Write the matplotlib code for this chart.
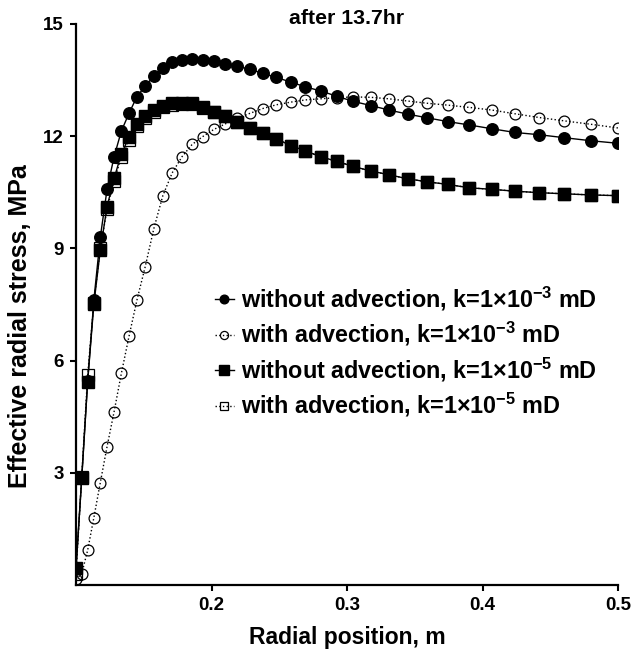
import matplotlib
matplotlib.use("Agg")
import matplotlib.pyplot as plt

plt.rcParams['font.family'] = ['Liberation Sans', 'DejaVu Sans']
plt.rcParams['font.weight'] = 'bold'
plt.rcParams['mathtext.fontset'] = 'custom'
plt.rcParams['mathtext.rm'] = 'Liberation Sans:bold'
plt.rcParams['mathtext.it'] = 'Liberation Sans:bold'
plt.rcParams['mathtext.bf'] = 'Liberation Sans:bold'
plt.rcParams['mathtext.default'] = 'rm'

# Radial positions (m)
radius = [0.1, 0.10421, 0.10860, 0.11318, 0.11795, 0.12292, 0.12810, 0.13349,
          0.13912, 0.14498, 0.15108, 0.15745, 0.16408, 0.17099, 0.17820, 0.18570,
          0.19353, 0.20168, 0.21018, 0.21903, 0.22826, 0.23787, 0.24789, 0.25834,
          0.26922, 0.28056, 0.29238, 0.30470, 0.31753, 0.33091, 0.34485, 0.35938,
          0.37452, 0.39029, 0.40673, 0.42387, 0.44172, 0.46033, 0.47972, 0.5]

# Effective radial stress (MPa)
no_adv_k3 = [0.45, 2.85, 5.45, 7.62, 9.30, 10.58, 11.45, 12.14, 12.61, 13.06,
             13.34, 13.61, 13.83, 13.98, 14.04, 14.06, 14.05, 14.01, 13.94, 13.87,
             13.79, 13.68, 13.57, 13.45, 13.32, 13.21, 13.07, 12.93, 12.82, 12.70,
             12.59, 12.49, 12.39, 12.30, 12.20, 12.10, 12.04, 11.96, 11.88, 11.81]

adv_k3 = [0.15, 0.30, 0.93, 1.80, 2.74, 3.70, 4.63, 5.66, 6.65, 7.62,
          8.51, 9.53, 10.41, 11.02, 11.45, 11.78, 11.99, 12.18, 12.33, 12.48,
          12.61, 12.74, 12.84, 12.91, 12.97, 13.00, 13.03, 13.05, 13.04, 13.00,
          12.94, 12.88, 12.83, 12.77, 12.70, 12.60, 12.50, 12.41, 12.32, 12.22]

no_adv_k5 = [0.45, 2.85, 5.44, 7.51, 8.96, 10.12, 10.87, 11.53, 11.97, 12.33,
             12.55, 12.70, 12.81, 12.88, 12.90, 12.88, 12.77, 12.66, 12.54, 12.37,
             12.23, 12.08, 11.93, 11.75, 11.61, 11.45, 11.33, 11.19, 11.07, 10.97,
             10.86, 10.78, 10.71, 10.62, 10.58, 10.53, 10.49, 10.46, 10.43, 10.41]

adv_k5 = [0.30, 2.90, 5.61, 7.55, 9.00, 10.05, 10.80, 11.45, 11.90, 12.27,
          12.50, 12.66, 12.77, 12.84, 12.87, 12.86, 12.76, 12.66, 12.54, 12.37,
          12.23, 12.08, 11.93, 11.75, 11.61, 11.45, 11.33, 11.19, 11.07, 10.97,
          10.86, 10.78, 10.71, 10.62, 10.58, 10.53, 10.49, 10.46, 10.43, 10.41]

labels = [r'without advection, k=1×10$^{-3}$ mD',
          r'with advection, k=1×10$^{-3}$ mD',
          r'without advection, k=1×10$^{-5}$ mD',
          r'with advection, k=1×10$^{-5}$ mD']

xticks = [0.2, 0.3, 0.4, 0.5]
xticklabels = ['0.2', '0.3', '0.4', '0.5']
yticks = [3, 6, 9, 12, 15]

fig = plt.figure(figsize=(6.34, 6.51), dpi=100)
ax = fig.add_axes([76/634, 1-585/651, (618-76)/634, (585-24)/651])

h1, = ax.plot(radius, no_adv_k3, '-', color='black', lw=1.0, marker='o', ms=8.3,
              mfc='black', mec='black', zorder=5, label=labels[0])
h2, = ax.plot(radius, adv_k3, ':', color='black', lw=1.0, marker='o', ms=7.8,
              mfc='none', mec='black', mew=0.9, zorder=3, label=labels[1])
h3, = ax.plot(radius, no_adv_k5, '-', color='black', lw=1.0, marker='s', ms=8.8,
              mfc='black', mec='black', zorder=4, label=labels[2])
h4, = ax.plot(radius, adv_k5, ':', color='black', lw=1.0, marker='s', ms=8.4,
              mfc='none', mec='black', mew=0.9, zorder=2, label=labels[3])

ax.set_xlim(0.1, 0.5)
ax.set_ylim(0, 15)
ax.set_xticks(xticks)
ax.set_xticklabels(xticklabels)
ax.set_yticks(yticks)
for s in ['top', 'right']:
    ax.spines[s].set_visible(False)
for s in ['left', 'bottom']:
    ax.spines[s].set_linewidth(1.6)
ax.tick_params(axis='both', which='major', direction='out', length=4, width=1.5,
               labelsize=13.5, pad=5)
for t in ax.get_xticklabels() + ax.get_yticklabels():
    t.set_fontweight('bold')

ax.set_xlabel('Radial position, m', fontsize=16.5, fontweight='bold', labelpad=8)
ax.set_ylabel('Effective radial stress, MPa', fontsize=18, fontweight='bold')
ax.yaxis.set_label_coords(-0.081, 0.462)
ax.text(0.5, 1.009, 'after 13.7hr', transform=ax.transAxes, ha='center', va='center',
        fontsize=15.3, fontweight='bold')

leg = ax.legend(handles=[h1, h2, h3, h4], loc='upper left',
                bbox_to_anchor=(0.2565, 0.535), frameon=False, fontsize=16.8,
                handlelength=0.8, handletextpad=0.3, labelspacing=0.31,
                markerscale=0.75, borderpad=0, borderaxespad=0)
for t in leg.get_texts():
    t.set_fontweight('bold')

fig.savefig('out.png', dpi=100)
